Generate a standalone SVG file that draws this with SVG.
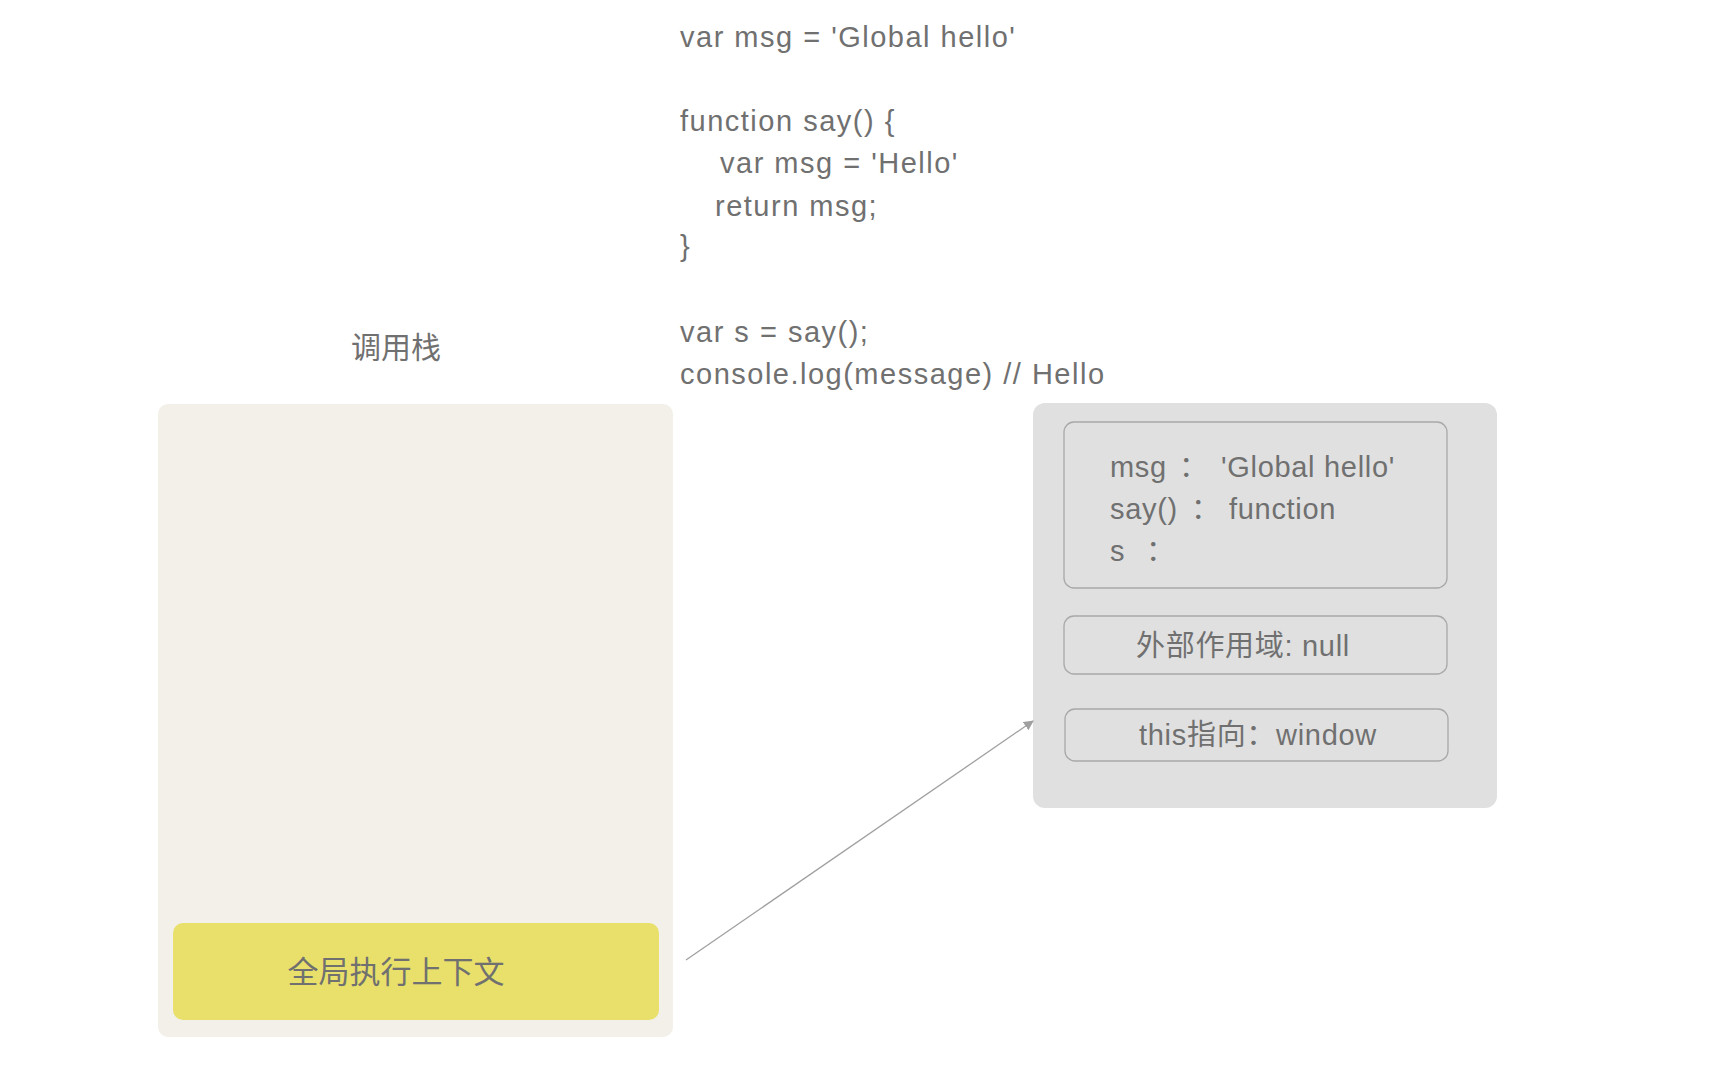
<svg xmlns="http://www.w3.org/2000/svg" width="1724" height="1082" viewBox="0 0 1724 1082">
<style>
.t{font-family:"Liberation Sans","Noto Sans CJK SC",sans-serif;fill:#707070;}
.code{font-size:29px;letter-spacing:1.5px;}
.box{font-size:29px;letter-spacing:0.7px;}
.cjk{font-family:"Noto Sans CJK SC","Liberation Sans",sans-serif;fill:#707070;}
.inner{fill:#E0E0E0;stroke:#A8A8A8;stroke-width:1.3;}
</style>
<defs>
<marker id="arr" viewBox="0 0 10 10" refX="9" refY="5" markerWidth="10" markerHeight="10" markerUnits="userSpaceOnUse" orient="auto">
<path d="M0,0 L10,5 L0,10 z" fill="#A0A0A0"/>
</marker>
</defs>
<rect width="1724" height="1082" fill="#FFFFFF"/>
<g id="code">
<text class="t code" x="680" y="47">var msg = 'Global hello'</text>
<text class="t code" x="680" y="131">function say() {</text>
<text class="t code" x="720" y="173">var msg = 'Hello'</text>
<text class="t code" x="715" y="216">return msg;</text>
<text class="t code" x="680" y="256">}</text>
<text class="t code" x="680" y="342">var s = say();</text>
<text class="t code" x="680" y="384">console.log(message) // Hello</text>
</g>
<g id="callstack-title">
<text class="cjk" x="396" y="358" font-size="30" text-anchor="middle">调用栈</text>
</g>
<g id="callstack">
<rect x="158" y="404" width="515" height="633" rx="10" fill="#F3F0E9"/>
</g>
<g id="global-context">
<rect x="173" y="923" width="486" height="97" rx="10" fill="#E8E06A"/>
<text class="cjk" x="396" y="983" font-size="31" text-anchor="middle">全局执行上下文</text>
</g>
<g id="context-detail">
<rect x="1033" y="403" width="464" height="405" rx="12" fill="#E0E0E0"/>
</g>
<g id="variables">
<rect class="inner" x="1064" y="422" width="383" height="166" rx="10"/>
<text class="t box" y="477"><tspan x="1110">msg</tspan><tspan x="1179" class="cjk">：</tspan><tspan x="1221">'Global hello'</tspan></text>
<text class="t box" y="519"><tspan x="1110">say()</tspan><tspan x="1191" class="cjk">：</tspan><tspan x="1229">function</tspan></text>
<text class="t box" y="561"><tspan x="1110">s</tspan><tspan x="1146" class="cjk">：</tspan></text>
</g>
<g id="outer-scope">
<rect class="inner" x="1064" y="616" width="383" height="58" rx="10"/>
<text class="t box" x="1243" y="656" text-anchor="middle">外部作用域: null</text>
</g>
<g id="this-binding">
<rect class="inner" x="1065" y="709" width="383" height="52" rx="10"/>
<text class="t box" x="1258" y="745" text-anchor="middle">this指向：window</text>
</g>
<g id="connectors">
<line x1="686" y1="960" x2="1033" y2="721" stroke="#A0A0A0" stroke-width="1.3" marker-end="url(#arr)"/>
</g>
</svg>
